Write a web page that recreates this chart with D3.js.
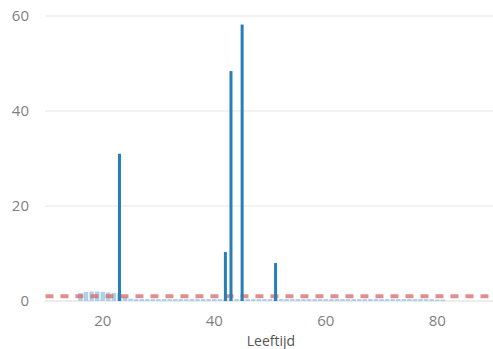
<!DOCTYPE html>
<html><head><meta charset="utf-8">
<script src="https://cdn.jsdelivr.net/npm/d3@7"></script>
<style>body{margin:0;background:#fff;}text{font-family:"Open Sans","Segoe UI",sans-serif;}</style>
</head><body><svg id="c" width="493" height="349"></svg>
<script>
const spikeAges = [23, 42, 43, 45, 51];
const spikeValues = [31, 10.3, 48.4, 58.2, 8];
const baseAges = [16,17,18,19,20,21,22,23,24,25,26,27,28,29,30,31,32,33,34,35,36,37,38,39,40,41,42,43,44,45,46,47,48,49,50,51,52,53,54,55,56,57,58,59,60,61,62,63,64,65,66,67,68,69,70,71,72,73,74,75,76,77,78,79,80,81];
const baseValues = [1.7,1.9,2.0,2.0,1.9,1.8,1.7,1.6,0.9,0.5,0.4,0.4,0.4,0.4,0.4,0.4,0.4,0.4,0.4,0.4,0.4,0.4,0.4,0.4,0.4,0.4,0.4,0.4,0.4,0.4,0.4,0.4,0.4,0.4,0.4,0.4,0.4,0.4,0.4,0.4,0.4,0.4,0.4,0.4,0.4,0.4,0.4,0.4,0.4,0.4,0.4,0.4,0.4,0.4,0.4,0.4,0.4,0.4,0.4,0.4,0.4,0.4,0.4,0.4,0.3,0.3];
const refValue = 1;
const xTicks = [20, 40, 60, 80];
const yTicks = [0, 20, 40, 60];
const xTitle = "Leeftijd";

const svg = d3.select("#c");
const x = d3.scaleLinear().domain([10, 90]).range([47, 493]);
const y = d3.scaleLinear().domain([0, 60]).range([301, 16]);

// gridlines
svg.append("g").selectAll("line").data(yTicks).join("line")
  .attr("x1", 45).attr("x2", 493)
  .attr("y1", d => y(d)).attr("y2", d => y(d))
  .attr("stroke", d => d === 0 ? "#e6e6e6" : "#eeeeee").attr("stroke-width", 1.5);

// y labels
svg.append("g").selectAll("text").data(yTicks).join("text")
  .attr("x", 29).attr("y", d => y(d)).attr("dy", "0.35em")
  .attr("text-anchor", "end").attr("fill", "#7f7f7f").attr("font-size", 15)
  .text(d => d);

// x labels
svg.append("g").selectAll("text").data(xTicks).join("text")
  .attr("x", d => x(d)).attr("y", 326)
  .attr("text-anchor", "middle").attr("fill", "#7f7f7f").attr("font-size", 15)
  .text(d => d);

svg.append("text").attr("x", 271).attr("y", 346)
  .attr("text-anchor", "middle").attr("fill", "#555").attr("font-size", 14)
  .text(xTitle);

// light base bars
svg.append("g").selectAll("rect").data(baseAges.map((a,i)=>({a, v: baseValues[i]}))).join("rect")
  .attr("x", d => x(d.a - 0.4)).attr("width", x(10.8) - x(10))
  .attr("y", d => y(d.v)).attr("height", d => y(0) - y(d.v))
  .attr("fill", "#9ecae6").attr("opacity", 0.85);

// reference dashed line
svg.append("line")
  .attr("x1", x(16) - 35).attr("x2", 493)
  .attr("y1", y(refValue)).attr("y2", y(refValue))
  .attr("stroke", "#d9666a").attr("stroke-opacity", 0.75)
  .attr("stroke-width", 4).attr("stroke-dasharray", "8,7");

// spike bars
svg.append("g").selectAll("rect").data(spikeAges.map((a,i)=>({a, v: spikeValues[i]}))).join("rect")
  .attr("x", d => x(d.a) - 1.5).attr("width", 3)
  .attr("y", d => y(d.v)).attr("height", d => y(0) - y(d.v))
  .attr("fill", "#2580b6");
</script></body></html>
